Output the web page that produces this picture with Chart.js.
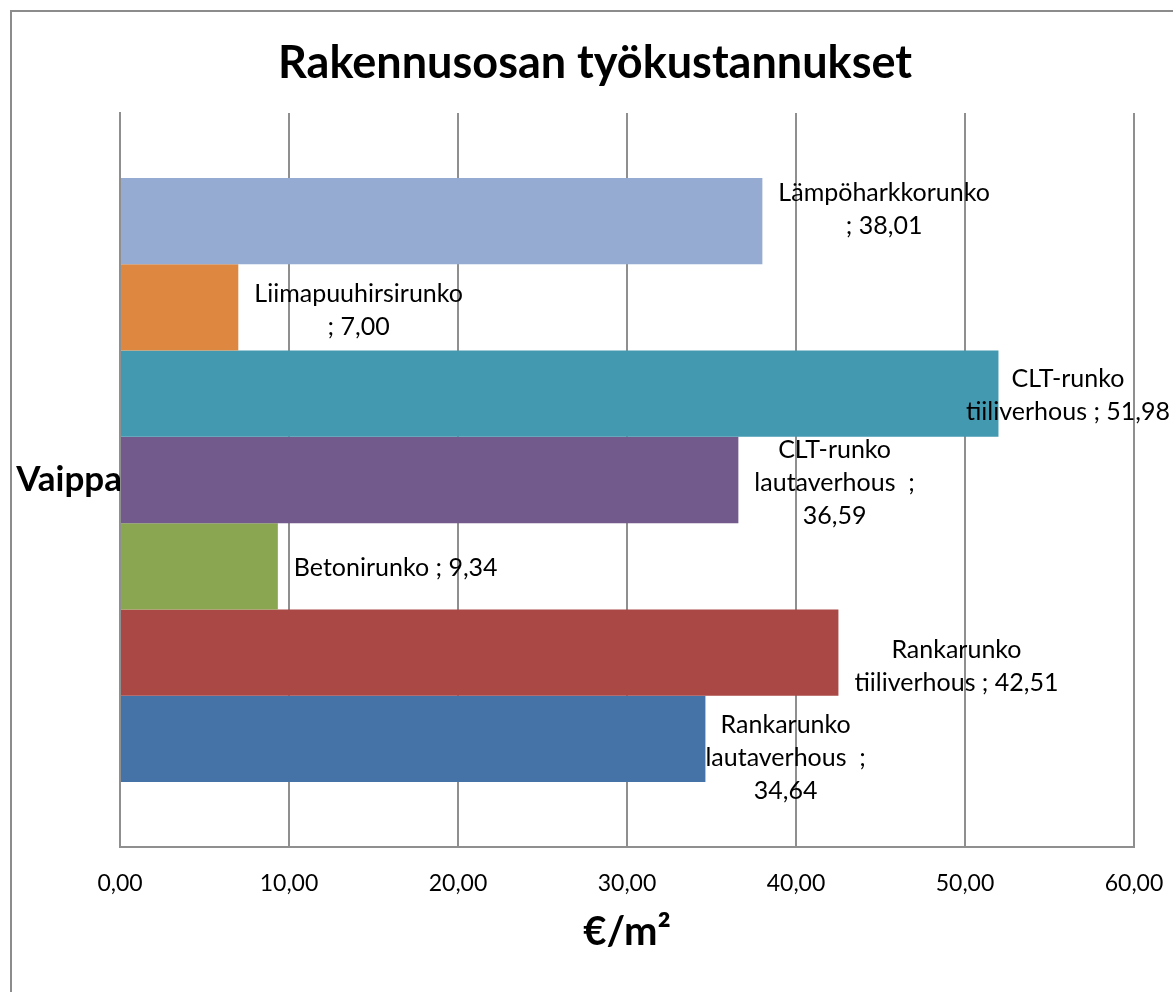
<!DOCTYPE html>
<html>
<head>
<meta charset="utf-8">
<script src="https://cdn.jsdelivr.net/npm/chart.js@4.4.1/dist/chart.umd.min.js"></script>
<style>
  html, body { margin: 0; padding: 0; background: #fff; overflow: hidden; }
  #chartBox { position: absolute; left: 0; top: 0; width: 1173px; height: 992px; }
</style>
</head>
<body>
<div id="chartBox"><canvas id="costChart" width="1173" height="992"></canvas></div>
<script>
// --- data ---
const chartTitle = 'Rakennusosan työkustannukset';
const categories = ['Vaippa'];
const seriesNames = [
  'Lämpöharkkorunko',
  'Liimapuuhirsirunko',
  'CLT-runko tiiliverhous',
  'CLT-runko lautaverhous ',
  'Betonirunko',
  'Rankarunko tiiliverhous',
  'Rankarunko lautaverhous '
];
const seriesValues = [38.01, 7.00, 51.98, 36.59, 9.34, 42.51, 34.64];
const xTicks = [0, 10, 20, 30, 40, 50, 60];
// label lines as wrapped in the original
const labelLines = [
  ['Lämpöharkkorunko', '; 38,01'],
  ['Liimapuuhirsirunko', '; 7,00'],
  ['CLT-runko', 'tiiliverhous ; 51,98'],
  ['CLT-runko', 'lautaverhous  ;', '36,59'],
  ['Betonirunko ; 9,34'],
  ['Rankarunko', 'tiiliverhous ; 42,51'],
  ['Rankarunko', 'lautaverhous  ;', '34,64']
];

const seriesColors = ['#95abd2', '#dd8740', '#4299b0', '#725a8d', '#8ba650', '#aa4845', '#4572a7'];
const gridColor = '#8f8f8f';
const fontFamily = 'Lato, "Noto Sans", sans-serif';

const fmt = v => Number(v).toFixed(2).replace('.', ',');

// ulkoreunus (vain vasen ja ylä näkyvät kuvassa) + otsikko
const frameLines = {
  id: 'frameLines',
  beforeDraw(chart) {
    const ctx = chart.ctx;
    ctx.save();
    ctx.fillStyle = '#fff';
    ctx.fillRect(0, 0, chart.width, chart.height);
    ctx.strokeStyle = '#8c8c8c';
    ctx.lineWidth = 2;
    ctx.beginPath();
    ctx.moveTo(11, chart.height);
    ctx.lineTo(11, 11);
    ctx.lineTo(chart.width, 11);
    ctx.stroke();

    ctx.fillStyle = '#000';
    ctx.font = 'bold 45px ' + fontFamily;
    ctx.textAlign = 'center';
    ctx.textBaseline = 'middle';
    ctx.fillText(chartTitle, 595, 63);
    ctx.restore();
  }
};

// arvotunnisteet palkkien oikealle puolelle
const barLabels = {
  id: 'barLabels',
  afterDatasetsDraw(chart, args, opts) {
    const ctx = chart.ctx;
    ctx.save();
    ctx.font = opts.size + 'px ' + fontFamily;
    ctx.fillStyle = '#000';
    ctx.textAlign = 'center';
    ctx.textBaseline = 'middle';
    chart.data.datasets.forEach((ds, i) => {
      const bar = chart.getDatasetMeta(i).data[0];
      const lines = labelLines[i];
      const w = Math.max(...lines.map(l => ctx.measureText(l).width));
      let cx = bar.x + opts.gap + w / 2 + (opts.dx[i] || 0);
      if (cx + w / 2 > chart.width - 3) cx = chart.width - 3 - w / 2;
      const cy = bar.y + (opts.dy[i] || 0);
      const y0 = cy - (lines.length - 1) * opts.lineHeight / 2;
      lines.forEach((l, k) => ctx.fillText(l, cx, y0 + k * opts.lineHeight));
    });
    ctx.restore();
  }
};

const costChart = new Chart(document.getElementById('costChart'), {
  type: 'bar',
  data: {
    labels: categories,
    datasets: seriesNames.map((name, i) => ({
      label: name,
      data: [seriesValues[i]],
      backgroundColor: seriesColors[i],
      borderWidth: 0,
      barPercentage: 1,
      categoryPercentage: 0.823
    }))
  },
  options: {
    indexAxis: 'y',
    responsive: false,
    animation: false,
    devicePixelRatio: 1,
    layout: {
      padding: { left: 0, right: 39, top: 113, bottom: 0 }
    },
    scales: {
      x: {
        min: 0,
        max: 60,
        afterBuildTicks: scale => { scale.ticks = xTicks.map(v => ({ value: v })); },
        afterFit: scale => {
          scale.height = 145;
          scale.paddingLeft = 0;
          scale.paddingRight = 0;
        },
        grid: { color: gridColor, lineWidth: 2, drawTicks: false },
        border: { display: true, color: gridColor, width: 2 },
        ticks: {
          padding: 23,
          color: '#000',
          font: { family: fontFamily, size: 23 },
          callback: v => fmt(v)
        },
        title: {
          display: true,
          text: '€/m²',
          color: '#000',
          font: { family: fontFamily, size: 40, weight: 'bold' },
          padding: { top: 0, bottom: 36 }
        }
      },
      y: {
        afterFit: scale => { scale.width = 120; },
        grid: { display: false, drawTicks: false },
        border: { display: true, color: gridColor, width: 2 },
        ticks: {
          padding: -2,
          color: '#000',
          font: { family: fontFamily, size: 35, weight: 'bold' }
        }
      }
    },
    plugins: {
      legend: { display: false },
      tooltip: { enabled: false },
      title: { display: false },
      barLabels: {
        size: 25,
        lineHeight: 33,
        gap: 16,
        dx: [0, 0, 0, 0, 0, 0, -16],
        dy: [-12, 3, 2, 3, 2, 14, 19]
      }
    }
  },
  plugins: [frameLines, barLabels]
});
</script>
</body>
</html>
